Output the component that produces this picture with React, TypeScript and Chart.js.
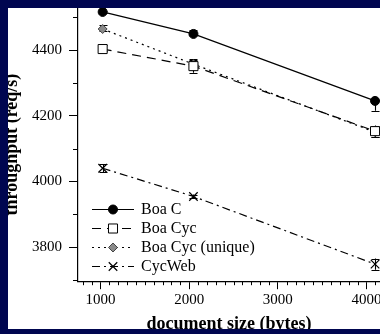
import React, { useEffect, useRef } from 'react';
import { Chart, registerables } from 'chart.js';

Chart.register(...registerables);

// ---- data ----
const docSizes = [1024, 2048, 4096];
const seriesNames = ['Boa C', 'Boa Cyc', 'Boa Cyc (unique)', 'CycWeb'];
const boaC = [4516, 4449, 4245];
const boaCyc = [4403, 4351, 4153];
const boaCycUnique = [4464, 4357, 4150];
const cycWeb = [4040, 3954, 3748];
// error bar extents (below / above the mean)
const boaCLow = [4, 4, 30];
const boaCHigh = [4, 12, 4];
const boaCycLow = [6, 20, 17];
const boaCycHigh = [12, 20, 17];
const boaCycUniqueLow = [6, 15, 15];
const boaCycUniqueHigh = [12, 15, 15];
const cycWebLow = [12, 6, 17];
const cycWebHigh = [12, 6, 17];
const xTickValues = [1000, 2000, 3000, 4000];
const yTickValues = [3800, 4000, 4200, 4400];
const xTitle = 'document size (bytes)';
const yTitle = 'throughput (req/s)';

const FONT = '"Liberation Serif", "Times New Roman", serif';

function drawMarker(ctx: CanvasRenderingContext2D, ds: any, x: number, y: number) {
  const r = ds.pointRadius;
  ctx.save();
  ctx.setLineDash([]);
  ctx.lineWidth = ds.pointBorderWidth;
  ctx.strokeStyle = ds.pointBorderColor;
  ctx.fillStyle = ds.pointBackgroundColor;
  ctx.beginPath();
  if (ds.pointStyle === 'circle') {
    ctx.arc(x, y, r, 0, Math.PI * 2);
    ctx.fill();
    ctx.stroke();
  } else if (ds.pointStyle === 'rect') {
    const s = Math.SQRT1_2 * r;
    ctx.rect(x - s, y - s, 2 * s, 2 * s);
    ctx.fill();
    ctx.stroke();
  } else if (ds.pointStyle === 'rectRot') {
    ctx.moveTo(x - r, y);
    ctx.lineTo(x, y - r);
    ctx.lineTo(x + r, y);
    ctx.lineTo(x, y + r);
    ctx.closePath();
    ctx.fill();
    ctx.stroke();
  } else if (ds.pointStyle === 'crossRot') {
    const s = Math.SQRT1_2 * r;
    ctx.moveTo(x - s, y - s);
    ctx.lineTo(x + s, y + s);
    ctx.moveTo(x + s, y - s);
    ctx.lineTo(x - s, y + s);
    ctx.stroke();
  }
  ctx.restore();
}

const errorBarPlugin = {
  id: 'errorBars',
  beforeDatasetsDraw(chart: any) {
    const { ctx, scales } = chart;
    const yScale = scales.y;
    ctx.save();
    ctx.strokeStyle = '#000';
    ctx.lineWidth = 1.1;
    ctx.setLineDash([]);
    chart.data.datasets.forEach((ds: any, i: number) => {
      const meta = chart.getDatasetMeta(i);
      meta.data.forEach((pt: any, j: number) => {
        const v = ds.data[j].y;
        const yLo = yScale.getPixelForValue(v - ds.errLow[j]);
        const yHi = yScale.getPixelForValue(v + ds.errHigh[j]);
        const x = Math.round(pt.x) + 0.5;
        const cap = 4;
        ctx.beginPath();
        ctx.moveTo(x, yLo);
        ctx.lineTo(x, yHi);
        ctx.moveTo(x - cap, Math.round(yLo) + 0.5);
        ctx.lineTo(x + cap, Math.round(yLo) + 0.5);
        ctx.moveTo(x - cap, Math.round(yHi) + 0.5);
        ctx.lineTo(x + cap, Math.round(yHi) + 0.5);
        ctx.stroke();
      });
    });
    ctx.restore();
  },
};

const minorTickPlugin = {
  id: 'minorTicks',
  afterDraw(chart: any) {
    const { ctx, chartArea, scales } = chart;
    const xs = scales.x;
    const ys = scales.y;
    ctx.save();
    ctx.strokeStyle = '#000';
    ctx.lineWidth = 1;
    ctx.beginPath();
    for (let v = Math.ceil(ys.min / 100) * 100; v <= ys.max; v += 100) {
      if (v % 200 === 0) continue;
      const py = Math.round(ys.getPixelForValue(v)) + 0.5;
      ctx.moveTo(chartArea.left - 5, py);
      ctx.lineTo(chartArea.left, py);
    }
    for (let v = Math.ceil(xs.min / 100) * 100; v <= xs.max; v += 100) {
      if (v % 1000 === 0) continue;
      const px = Math.round(xs.getPixelForValue(v)) + 0.5;
      ctx.moveTo(px, chartArea.bottom);
      ctx.lineTo(px, chartArea.bottom + 4);
    }
    ctx.stroke();
    ctx.restore();
  },
};

const legendPlugin = {
  id: 'insideLegend',
  afterDatasetsDraw(chart: any) {
    const { ctx, chartArea } = chart;
    ctx.save();
    chart.data.datasets.forEach((ds: any, i: number) => {
      const y = Math.round(chartArea.bottom - 72 + i * 19) + 0.5;
      const x0 = chartArea.left + 14;
      const x1 = chartArea.left + 56;
      const xm = chartArea.left + 35;
      ctx.strokeStyle = ds.borderColor;
      ctx.lineWidth = ds.borderWidth;
      ctx.setLineDash(ds.borderDash || []);
      ctx.beginPath();
      ctx.moveTo(x0, y);
      ctx.lineTo(x1, y);
      ctx.stroke();
      drawMarker(ctx, ds, xm, y);
      ctx.setLineDash([]);
      ctx.fillStyle = '#000';
      ctx.font = '16px ' + FONT;
      ctx.textBaseline = 'middle';
      ctx.textAlign = 'left';
      ctx.fillText(ds.label, chartArea.left + 63, y);
    });
    ctx.restore();
  },
};

function pts(vals: number[]) {
  return docSizes.map((x, i) => ({ x, y: vals[i] }));
}

export default function App() {
  const ref = useRef<HTMLCanvasElement>(null);

  useEffect(() => {
    document.body.style.background = '#000650';
    document.body.style.overflow = 'hidden';
    const canvas = ref.current!;
    const common = {
      borderColor: '#000',
      borderWidth: 1.2,
      tension: 0,
      clip: false as any,
    };
    const chart = new Chart(canvas, {
      type: 'line',
      data: {
        datasets: [
          {
            ...common,
            label: seriesNames[0],
            data: pts(boaC),
            errLow: boaCLow,
            errHigh: boaCHigh,
            borderDash: [],
            pointStyle: 'circle',
            pointRadius: 4.5,
            pointBackgroundColor: '#000',
            pointBorderColor: '#000',
            pointBorderWidth: 1,
          } as any,
          {
            ...common,
            label: seriesNames[1],
            data: pts(boaCyc),
            errLow: boaCycLow,
            errHigh: boaCycHigh,
            borderDash: [9, 6],
            pointStyle: 'rect',
            pointRadius: 6.4,
            pointBackgroundColor: '#fff',
            pointBorderColor: '#000',
            pointBorderWidth: 1,
          } as any,
          {
            ...common,
            label: seriesNames[2],
            data: pts(boaCycUnique),
            errLow: boaCycUniqueLow,
            errHigh: boaCycUniqueHigh,
            borderDash: [2, 4],
            pointStyle: 'rectRot',
            pointRadius: 4.5,
            pointBackgroundColor: '#8a8a8a',
            pointBorderColor: '#444',
            pointBorderWidth: 1,
          } as any,
          {
            ...common,
            label: seriesNames[3],
            data: pts(cycWeb),
            errLow: cycWebLow,
            errHigh: cycWebHigh,
            borderDash: [8, 4, 2, 4],
            pointStyle: 'crossRot',
            pointRadius: 6,
            pointBackgroundColor: '#000',
            pointBorderColor: '#000',
            pointBorderWidth: 1.2,
          } as any,
        ],
      },
      options: {
        animation: false,
        responsive: false,
        layout: { autoPadding: false, padding: { left: 0, top: 0, right: 20, bottom: 0 } },
        plugins: {
          legend: { display: false },
          tooltip: { enabled: false },
        },
        scales: {
          x: {
            type: 'linear',
            min: 746,
            max: 4152,
            afterBuildTicks: (axis: any) => {
              axis.ticks = xTickValues.map((value) => ({ value }));
            },
            afterFit: (scale: any) => {
              scale.height = 53.8;
              scale.paddingLeft = 0;
              scale.paddingRight = 0;
            },
            ticks: {
              callback: (v: any) => String(v),
              font: { family: FONT, size: 15 },
              color: '#000',
              padding: 2,
              maxRotation: 0,
              autoSkip: false,
            },
            grid: {
              display: true,
              drawOnChartArea: false,
              drawTicks: true,
              tickLength: 8,
              tickColor: '#000',
              tickWidth: 1,
            },
            border: { display: true, color: '#000', width: 1.2 },
            title: {
              display: true,
              text: xTitle,
              font: { family: FONT, size: 18, weight: 'bold' },
              color: '#000',
              padding: { top: 0, bottom: 0 },
            },
          },
          y: {
            type: 'linear',
            min: 3696,
            max: 4528,
            afterBuildTicks: (axis: any) => {
              axis.ticks = yTickValues.map((value) => ({ value }));
            },
            afterFit: (scale: any) => {
              scale.width = 80;
              scale.paddingTop = 0;
              scale.paddingBottom = 0;
            },
            ticks: {
              callback: (v: any) => String(v),
              font: { family: FONT, size: 15 },
              color: '#000',
              padding: 7,
              autoSkip: false,
            },
            grid: {
              display: true,
              drawOnChartArea: false,
              drawTicks: true,
              tickLength: 9,
              tickColor: '#000',
              tickWidth: 1,
            },
            border: { display: true, color: '#000', width: 1.2 },
            title: {
              display: true,
              text: yTitle,
              font: { family: FONT, size: 18, weight: 'bold' },
              color: '#000',
              padding: { top: 4, bottom: 0 },
            },
          },
        },
      } as any,
      plugins: [errorBarPlugin, minorTickPlugin, legendPlugin],
    });
    return () => chart.destroy();
  }, []);

  return (
    <div
      style={{
        position: 'fixed',
        left: 8,
        top: 8,
        width: 420,
        height: 321,
        overflow: 'hidden',
        background: '#fff',
      }}
    >
      <canvas
        ref={ref}
        width={402}
        height={327}
        style={{ position: 'absolute', left: -10, top: 0, width: 402, height: 327 }}
      />
    </div>
  );
}
